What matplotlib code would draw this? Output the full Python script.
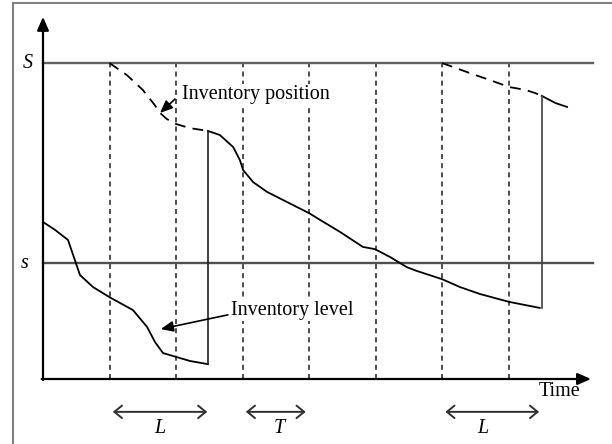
"""
(s, S) periodic review inventory sketch: inventory level and position over time.
"""

import matplotlib
matplotlib.use("Agg")
import matplotlib.pyplot as plt
from matplotlib.lines import Line2D

# time in review periods T, inventory in % of S
S_LEVEL = 100.0
s_LEVEL = 36.7
REVIEWS = [1, 2, 3, 4, 5, 6, 7]
ORDER_ARRIVALS = [2.48, 7.5]

# inventory level before the first delivery
level1_t = [0, 0.18, 0.376, 0.556, 0.752, 1.0, 1.353, 1.564, 1.684, 1.805, 2.0, 2.21, 2.48]
level1_v = [49.7, 47.2, 44.0, 32.9, 29.1, 25.9, 21.8, 16.5, 11.7, 8.2, 7.0, 5.7, 4.7]

# inventory position after the first order
pos1_t = [1.0, 1.26, 1.50, 1.68, 1.76, 1.86, 2.0, 2.21, 2.48]
pos1_v = [100, 96.2, 91.5, 86.7, 84.2, 82.3, 80.7, 79.4, 78.5]

# inventory level after the first delivery
level2_t = [2.48, 2.66, 2.86, 2.96, 3.01, 3.16, 3.37, 3.67, 4.0, 4.17, 4.47, 4.81,
            4.99, 5.22, 5.47, 5.62, 6.0, 6.27, 6.57, 7.01, 7.47]
level2_v = [78.5, 77.2, 73.4, 69.3, 66.1, 62.3, 59.2, 56.0, 52.5, 50.3, 46.5, 41.8,
            41.1, 38.6, 35.4, 34.2, 31.6, 29.1, 26.9, 24.4, 22.5]

# inventory position after the second order
pos2_t = [6.0, 6.42, 6.72, 7.01, 7.25, 7.40, 7.50]
pos2_v = [100, 96.8, 94.6, 92.4, 91.5, 90.5, 89.6]

# after the second delivery
level3_t = [7.5, 7.59, 7.71, 7.88]
level3_v = [89.6, 88.6, 87.3, 86.1]

T_MAX = 8.27
V_TOP = 114.6

plt.rcParams['font.family'] = ['Liberation Serif', 'DejaVu Serif']

fig = plt.figure(figsize=(6.12, 4.44), dpi=100)
ax = fig.add_axes([0, 0, 1, 1])
ax.set_xlim(-0.6466, 8.556)
ax.set_ylim(-20.57, 119.94)
ax.axis('off')

# outer frame (left and top only)
fig.add_artist(Line2D([0.0212, 0.0212], [0, 0.9932], color='#808080', lw=1.5))
fig.add_artist(Line2D([0.0212, 1.0], [0.9932, 0.9932], color='#808080', lw=1.5))

# S and s levels
ax.plot([0, T_MAX], [S_LEVEL, S_LEVEL], color='#606060', lw=1.7)
ax.plot([0, T_MAX], [s_LEVEL, s_LEVEL], color='#505050', lw=1.7)

# review epochs
for t in REVIEWS:
    ax.plot([t, t], [0, S_LEVEL], color='#303030', lw=1.2,
            linestyle=(0, (3, 2.5)), zorder=1)

# curves
ax.plot(level1_t, level1_v, color='black', lw=1.3, zorder=3)
ax.plot(pos1_t, pos1_v, color='black', lw=1.3, linestyle=(0, (6, 4)), zorder=3)
ax.plot(level2_t, level2_v, color='black', lw=1.3, zorder=3)
ax.plot(pos2_t, pos2_v, color='black', lw=1.3, linestyle=(0, (6, 4)), zorder=3)
ax.plot(level3_t, level3_v, color='black', lw=1.3, zorder=3)

# deliveries
ax.plot([ORDER_ARRIVALS[0]] * 2, [level1_v[-1], level2_v[0]], color='#202020', lw=1.2, zorder=3)
ax.plot([ORDER_ARRIVALS[1]] * 2, [level2_v[-1], level3_v[0]], color='#404040', lw=1.2, zorder=3)

# axes with arrows
ax.annotate('', xy=(0, V_TOP), xytext=(0, -0.3),
            arrowprops=dict(arrowstyle='-|>,head_length=0.8,head_width=0.35',
                            color='black', lw=1.6, shrinkA=0, shrinkB=0), zorder=4)
ax.annotate('', xy=(8.24, 0), xytext=(-0.02, 0),
            arrowprops=dict(arrowstyle='-|>,head_length=0.8,head_width=0.35',
                            color='black', lw=1.6, shrinkA=0, shrinkB=0), zorder=4)

ax.text(-0.226, S_LEVEL, 'S', fontsize=14.5, style='italic', ha='center', va='center')
ax.text(-0.27, s_LEVEL, 's', fontsize=14.5, style='italic', ha='center', va='center')
ax.text(7.77, -4.1, 'Time', fontsize=14.5, ha='center', va='center')

# labels with arrows
ax.text(2.09, 89.9, 'Inventory position', fontsize=14.5, ha='left', va='center',
        bbox=dict(facecolor='white', edgecolor='none', pad=1), zorder=5)
ax.annotate('', xy=(1.76, 84.2), xytext=(1.985, 88.6),
            arrowprops=dict(arrowstyle='-|>,head_length=0.75,head_width=0.32',
                            color='black', lw=1.2, shrinkA=0, shrinkB=0), zorder=5)
ax.text(2.83, 21.8, 'Inventory level', fontsize=14.5, ha='left', va='center',
        bbox=dict(facecolor='white', edgecolor='none', pad=1), zorder=5)
ax.annotate('', xy=(1.77, 15.8), xytext=(2.78, 20.3),
            arrowprops=dict(arrowstyle='-|>,head_length=0.75,head_width=0.32',
                            color='black', lw=1.2, shrinkA=0, shrinkB=0), zorder=5)

# lead time and review period spans
spans = [(1.05, 2.47, 1.76, 'L'), (3.05, 3.95, 3.56, 'T'), (6.05, 7.46, 6.62, 'L')]
for a, b, mid, lab in spans:
    ax.annotate('', xy=(b, -10.4), xytext=(a, -10.4),
                arrowprops=dict(arrowstyle='<->,head_length=0.55,head_width=0.45',
                                color='#303030', lw=1.4, shrinkA=0, shrinkB=0))
    ax.text(mid, -15.6, lab, fontsize=14.5, style='italic', ha='center', va='center')

fig.savefig('out.png', dpi=100)
